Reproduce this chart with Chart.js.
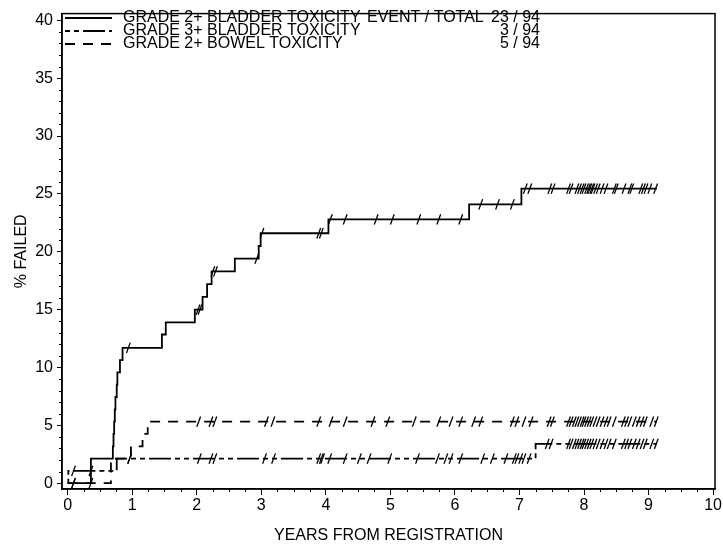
<!DOCTYPE html>
<html><head><meta charset="utf-8">
<script src="https://cdn.jsdelivr.net/npm/chart.js@4"></script>
<style>html,body{margin:0;padding:0;background:#fff}</style>
</head><body>
<canvas id="c" width="723" height="549" style="width:723px;height:549px;display:block"></canvas>
<script>
// ---------- data ----------
const xTicks = [0,1,2,3,4,5,6,7,8,9,10];
const yTicks = [0,5,10,15,20,25,30,35,40];
const seriesNames = ['GRADE 2+ BLADDER TOXICITY','GRADE 3+ BLADDER TOXICITY','GRADE 2+ BOWEL TOXICITY'];
const eventTotals = ['23 / 94','3 / 94','5 / 94'];
const legendHeader = 'EVENT / TOTAL';
const xTitle = 'YEARS FROM REGISTRATION';
const yTitle = '% FAILED';

// Grade 2+ bladder (solid) - step times (years) and cumulative % failed
const g2BladderTime = [0,0.36,0.70,0.71,0.72,0.73,0.74,0.76,0.77,0.81,0.85,1.46,1.52,1.97,2.09,2.16,2.23,2.59,2.96,2.99,4.04,6.22,7.03,9.13];
const g2BladderPct  = [0,2.13,3.19,4.26,5.32,6.38,7.45,8.51,9.57,10.64,11.70,12.85,13.9,15.0,16.1,17.2,18.3,19.4,20.5,21.6,22.8,24.1,25.45,25.45];
const g2BladderCens = [0.09,0.94,2.02,2.05,2.25,2.29,2.93,3.01,3.89,3.93,4.07,4.30,4.78,5.03,5.44,5.75,6.09,6.40,6.66,6.89,7.09,7.16,7.47,7.52,7.76,7.80,7.89,7.93,7.97,8.00,8.04,8.07,8.09,8.12,8.14,8.18,8.22,8.28,8.34,8.47,8.50,8.62,8.71,8.74,8.88,8.92,8.96,9.02,9.11];

// Grade 3+ bladder (dash-dot)
const g3BladderTime = [0,0.01,0.76,7.25,9.13];
const g3BladderPct  = [0,1.06,2.13,3.4,3.4];
const g3BladderCens = [0.09,0.36,0.96,2.04,2.22,2.28,3.05,3.19,3.89,3.93,3.95,4.06,4.30,4.52,4.67,4.99,5.42,5.73,5.86,5.94,6.09,6.43,6.58,6.79,6.92,6.96,7.02,7.07,7.15,7.43,7.49,7.76,7.80,7.85,7.89,7.93,7.97,8.00,8.04,8.08,8.12,8.17,8.22,8.28,8.34,8.39,8.47,8.61,8.66,8.71,8.78,8.84,8.90,8.95,9.05,9.12];

// Grade 2+ bowel (dashed)
const bowelTime = [0,0.67,0.98,1.16,1.24,9.13];
const bowelPct  = [0,2.13,3.19,4.26,5.32,5.32];
const bowelCens = [0.09,0.36,0.96,2.03,2.22,2.28,3.08,3.18,3.89,4.08,4.30,4.73,4.96,5.37,5.75,5.94,6.09,6.29,6.40,6.89,6.96,7.07,7.18,7.46,7.51,7.76,7.80,7.85,7.89,7.93,7.97,8.00,8.04,8.08,8.12,8.17,8.22,8.28,8.34,8.39,8.47,8.61,8.66,8.71,8.78,8.84,8.90,8.95,9.05,9.12];

// ---------- styles ----------
const INK = '#000';
const FONT = "'Liberation Sans', Arial, sans-serif";
const dashes = [[], [5,4,5,4,22,4], [10,8]];

function steps(ts, vs){ return ts.map((t,i)=>({x:t, y:vs[i]})); }
function levelAt(ts, vs, t){ let v = vs[0]; for(let i=0;i<ts.length;i++){ if(ts[i] <= t) v = vs[i]; } return v; }
function marks(cens, ts, vs){ return cens.map(t=>({x:t, y:levelAt(ts, vs, t)})); }

const curves = [
  {t:g2BladderTime, v:g2BladderPct, c:g2BladderCens},
  {t:g3BladderTime, v:g3BladderPct, c:g3BladderCens},
  {t:bowelTime, v:bowelPct, c:bowelCens}
];

const datasets = [];
curves.forEach((cv,i)=>{
  datasets.push({label:seriesNames[i], data:steps(cv.t, cv.v), stepped:true, borderColor:INK, borderWidth:1.8,
    borderDash:dashes[i], pointRadius:0, fill:false, tension:0});
});
curves.forEach((cv,i)=>{
  datasets.push({label:seriesNames[i]+' censored', data:marks(cv.c, cv.t, cv.v), showLine:false,
    pointStyle:'line', pointRotation:110, pointRadius:5.5, pointBorderWidth:1.3, pointBorderColor:INK, borderColor:INK, pointBackgroundColor:INK});
});

const decor = {
  id:'decor',
  afterDraw(chart){
    const ctx = chart.ctx, a = chart.chartArea, xs = chart.scales.x, ys = chart.scales.y;
    ctx.save();
    // frame
    ctx.strokeStyle = INK; ctx.lineWidth = 1.5; ctx.setLineDash([]);
    ctx.strokeRect(a.left, a.top, a.right - a.left, a.bottom - a.top);
    // minor ticks
    ctx.lineWidth = 1;
    ctx.beginPath();
    for(let k=1;k<40;k++){ const v = k/4; if(k%4===0) continue; const px = Math.round(xs.getPixelForValue(v))+0.5; ctx.moveTo(px, a.bottom); ctx.lineTo(px, a.bottom+3); }
    for(let k=1;k<40;k++){ if(k%5===0) continue; const py = Math.round(ys.getPixelForValue(k))+0.5; ctx.moveTo(a.left, py); ctx.lineTo(a.left-3, py); }
    ctx.stroke();
    // legend
    const rows = [18, 31, 44];
    ctx.fillStyle = INK; ctx.font = '16px ' + FONT; ctx.textBaseline = 'middle';
    rows.forEach((ry,i)=>{
      ctx.beginPath(); ctx.setLineDash(dashes[i]); ctx.lineWidth = 1.8;
      ctx.moveTo(65, ry); ctx.lineTo(112, ry); ctx.stroke();
      ctx.setLineDash([]);
      ctx.textAlign = 'left'; ctx.fillText(seriesNames[i], 123, ry);
      ctx.textAlign = 'right'; ctx.fillText(eventTotals[i], 540, ry);
    });
    ctx.textAlign = 'left'; ctx.fillText(legendHeader, 367, rows[0]);
    ctx.restore();
  }
};

new Chart(document.getElementById('c'), {
  type:'line',
  data:{datasets},
  options:{
    responsive:false, animation:false, devicePixelRatio:1,
    layout:{padding:{top:8, right:5.5, left:0, bottom:0}},
    plugins:{legend:{display:false}, tooltip:{enabled:false}},
    scales:{
      x:{type:'linear', min:-0.088, max:10.03,
        afterBuildTicks:s=>{ s.ticks = xTicks.map(v=>({value:v})); },
        afterFit:s=>{ s.height = 60; },
        ticks:{color:INK, font:{family:FONT, size:16}, padding:1, maxRotation:0, autoSkip:false},
        grid:{drawOnChartArea:false, drawTicks:true, tickLength:6, color:INK, tickWidth:1},
        border:{display:true, color:INK, width:1.5},
        title:{display:true, text:xTitle, color:INK, font:{family:FONT, size:16}, padding:{top:0, bottom:4}}
      },
      y:{type:'linear', min:-0.5, max:40.58,
        afterBuildTicks:s=>{ s.ticks = yTicks.map(v=>({value:v})); },
        afterFit:s=>{ s.width = 62; },
        ticks:{color:INK, font:{family:FONT, size:16}, padding:4, autoSkip:false},
        grid:{drawOnChartArea:false, drawTicks:true, tickLength:5, color:INK, tickWidth:1},
        border:{display:true, color:INK, width:1.5},
        title:{display:true, text:yTitle, color:INK, font:{family:FONT, size:16}, padding:{top:12, bottom:0}}
      }
    }
  },
  plugins:[decor]
});
</script>
</body></html>
